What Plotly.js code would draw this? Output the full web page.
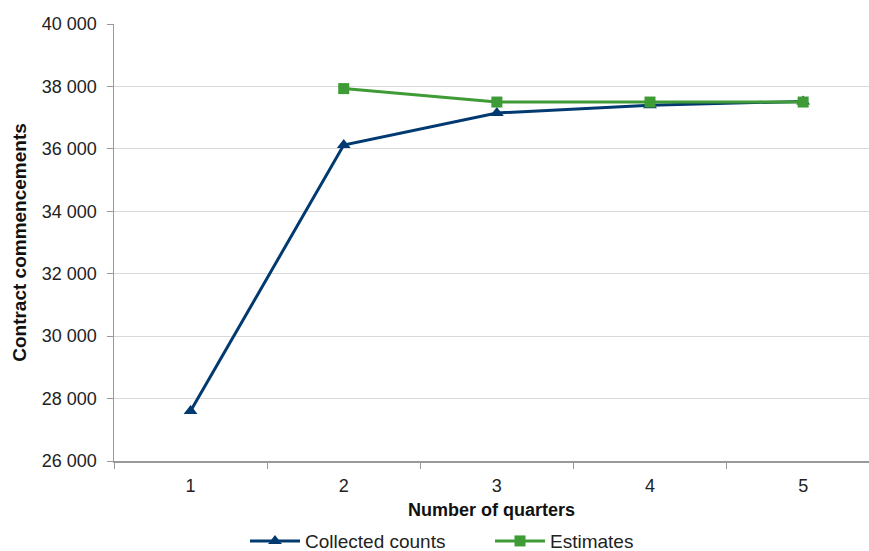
<!DOCTYPE html>
<html>
<head>
<meta charset="utf-8">
<script src="https://cdn.plot.ly/plotly-3.0.1.min.js"></script>
<style>html,body{margin:0;padding:0;background:#fff;overflow:hidden}#chart{width:869px;height:551px}</style>
</head>
<body>
<div id="chart"></div>
<script>
const quarters = ["1", "2", "3", "4", "5"];
const collectedCounts = [27600, 36120, 37150, 37400, 37520];
const estimates = [null, 37930, 37500, 37500, 37500];
const yTicks = [26000, 28000, 30000, 32000, 34000, 36000, 38000, 40000];

const traces = [
  {
    x: quarters, y: collectedCounts, name: "Collected counts", type: "scatter", mode: "lines+markers",
    line: {color: "#003A70", width: 3},
    marker: {symbol: "triangle-up", size: 12, color: "#003A70"}
  },
  {
    x: quarters, y: estimates, name: "Estimates", type: "scatter", mode: "lines+markers",
    line: {color: "#3F9B35", width: 3},
    marker: {symbol: "square", size: 11, color: "#3F9B35"},
    connectgaps: false
  }
];

const layout = {
  width: 869, height: 551,
  margin: {l: 114, r: 0, t: 24, b: 90},
  paper_bgcolor: "#fff", plot_bgcolor: "#fff",
  separators: ". ",
  font: {family: "Liberation Sans, Arial, sans-serif", color: "#222", size: 18},
  showlegend: true,
  legend: {orientation: "h", x: 245 / 869, xref: "container", xanchor: "left", y: 0.018, yref: "container", yanchor: "middle",
           font: {size: 19, color: "#222"}, itemwidth: 50, entrywidth: 180, traceorder: "normal"},
  xaxis: {
    type: "category", range: [-0.5, 4.43], tickson: "boundaries",
    ticks: "outside", ticklen: 6, tickcolor: "#999", showline: true, linecolor: "#999", linewidth: 1.5,
    showgrid: false, tickfont: {size: 18, color: "#222"}, ticklabelstandoff: 8,
    title: {text: "<b>Number of quarters</b>", font: {size: 18, color: "#111"}, standoff: 8}
  },
  yaxis: {
    range: [26000, 40000], tickvals: yTicks, tickformat: ",d",
    ticks: "outside", ticklen: 6, tickcolor: "#999", showline: true, linecolor: "#999", linewidth: 1.5,
    showgrid: true, gridcolor: "#D9D9D9", gridwidth: 1, zeroline: false,
    tickfont: {size: 18, color: "#222"}, ticklabelstandoff: 6,
    title: {text: "<b>Contract commencements</b>", font: {size: 19, color: "#111"}, standoff: 10}
  }
};

Plotly.newPlot("chart", traces, layout, {staticPlot: true, displayModeBar: false});
</script>
</body>
</html>
